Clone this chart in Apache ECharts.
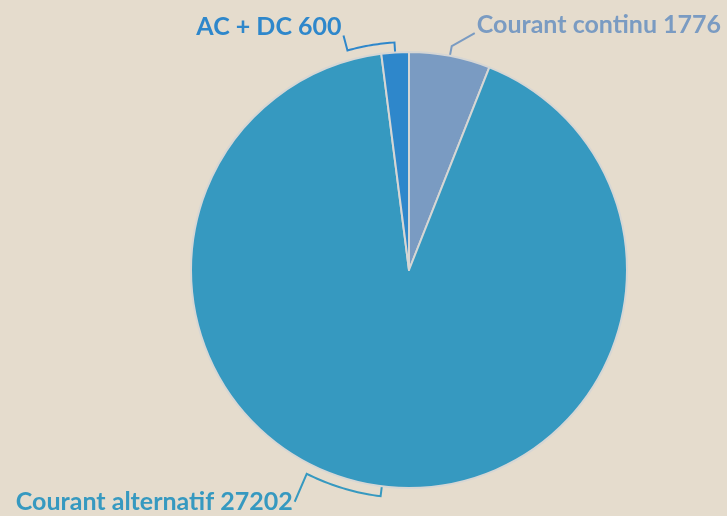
<!DOCTYPE html>
<html>
<head>
<meta charset="utf-8">
<script src="https://cdn.jsdelivr.net/npm/echarts@6/dist/echarts.min.js"></script>
<style>
  html, body { margin: 0; padding: 0; background: #e5dccd; }
  #chart { width: 727px; height: 516px; }
</style>
</head>
<body>
<div id="chart"></div>
<script>
// data
const categories = ['Courant continu', 'Courant alternatif', 'AC + DC'];
const values = [1776, 27202, 600];

// styles
const sliceColors = ['#7a9bc2', '#3699c0', '#2e87cb'];
const CX = 409, CY = 270, R = 218, R_GUIDE = 228;
// per slice: arc along the rim (deg), lead to label, label offset, align
const guides = [
    {arc: 0, lead: [23, -13], off: [2, -8], align: 'left'},
    {arc: 19.5, lead: [-12, 28], off: [-2, 0], align: 'right'},
    {arc: -12, lead: [-4, -15], off: [-2, -9], align: 'right'}
];

const total = values.reduce((a, b) => a + b, 0);
const midAngles = [];
let cum = 0;
values.forEach(v => {
    midAngles.push((cum + v / 2) / total * 360);
    cum += v;
});

function polar(deg, r) {
    const a = deg * Math.PI / 180;
    return [CX + r * Math.sin(a), CY - r * Math.cos(a)];
}

const chart = echarts.init(document.getElementById('chart'));
chart.setOption({
    backgroundColor: '#e5dccd',
    animation: false,
    series: [{
        type: 'pie',
        center: [CX, CY],
        radius: R,
        startAngle: 90,
        clockwise: true,
        avoidLabelOverlap: false,
        itemStyle: {
            borderColor: '#d6d6d4',
            borderWidth: 2
        },
        label: {
            show: true,
            position: 'outside',
            formatter: '{b} {c}',
            fontFamily: 'Lato',
            fontWeight: 'bold',
            fontSize: 25
        },
        labelLine: {
            show: true,
            length: 10,
            length2: 10,
            lineStyle: {width: 2}
        },
        labelLayout: function (params) {
            const i = params.dataIndex;
            const g = guides[i];
            const mid = midAngles[i];
            const pts = [polar(mid, R), polar(mid, R_GUIDE)];
            const steps = 20;
            for (let s = 1; s <= steps && g.arc !== 0; s++) {
                pts.push(polar(mid + g.arc * s / steps, R_GUIDE));
            }
            const last = pts[pts.length - 1];
            const end = [last[0] + g.lead[0], last[1] + g.lead[1]];
            pts.push(end);
            return {
                x: end[0] + g.off[0],
                y: end[1] + g.off[1],
                align: g.align,
                verticalAlign: 'middle',
                labelLinePoints: pts
            };
        },
        data: categories.map((name, i) => ({
            name: name,
            value: values[i],
            itemStyle: {color: sliceColors[i]},
            label: {color: sliceColors[i]},
            labelLine: {lineStyle: {color: sliceColors[i]}}
        }))
    }]
});
</script>
</body>
</html>
